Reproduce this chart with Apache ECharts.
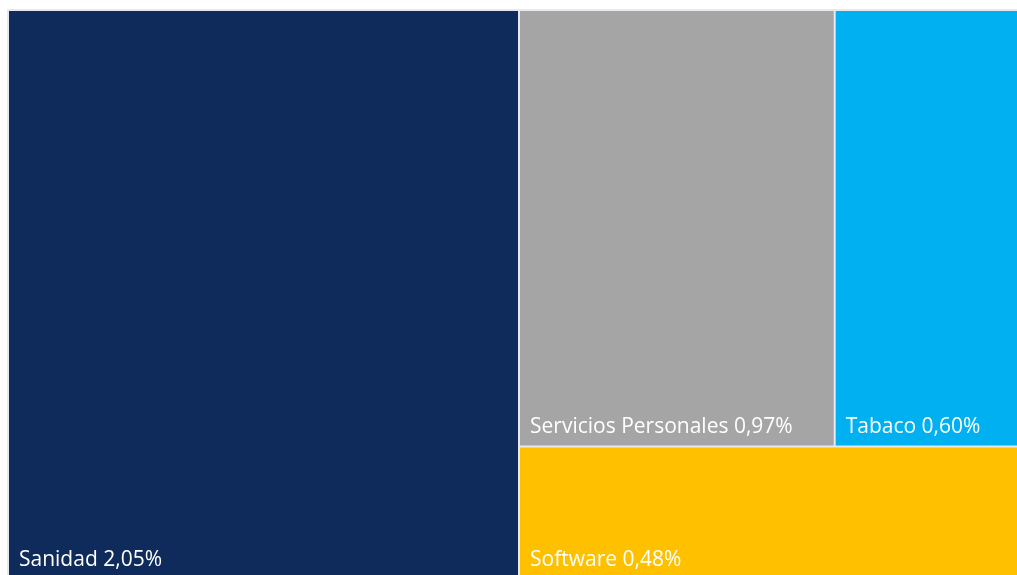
<!DOCTYPE html>
<html>
<head>
<meta charset="utf-8">
<script src="https://cdn.jsdelivr.net/npm/echarts@6/dist/echarts.min.js"></script>
<style>
html,body{margin:0;padding:0;background:#fff;overflow:hidden;}
#chart{width:1017px;height:575px;}
</style>
</head>
<body>
<div id="chart"></div>
<script>
const categories = ['Sanidad', 'Servicios Personales', 'Tabaco', 'Software'];
const values = [2.05, 0.97, 0.60, 0.48];
const palette = ['#0F2B5B', '#A5A5A5', '#00B0F0', '#FFC000'];

const data = categories.map((name, i) => ({
  name: name,
  value: values[i],
  itemStyle: { color: palette[i] }
}));

const chart = echarts.init(document.getElementById('chart'), null, { renderer: 'canvas' });
chart.setOption({
  animation: false,
  series: [{
    type: 'treemap',
    left: 7,
    top: 9,
    width: 1024,
    height: 572,
    roam: false,
    nodeClick: false,
    breadcrumb: { show: false },
    squareRatio: 0.5 * (1 + Math.sqrt(5)),
    itemStyle: { borderWidth: 1, borderColor: '#e6e9ef', gapWidth: 0 },
    label: {
      show: true,
      position: 'insideBottomLeft',
      distance: 0,
      padding: [0, 0, 8, 10],
      color: '#ffffff',
      fontFamily: 'Open Sans',
      fontSize: 21,
      formatter: p => p.name + ' ' + p.value.toFixed(2).replace('.', ',') + '%'
    },
    emphasis: { disabled: true },
    data: data
  }]
});
</script>
</body>
</html>
